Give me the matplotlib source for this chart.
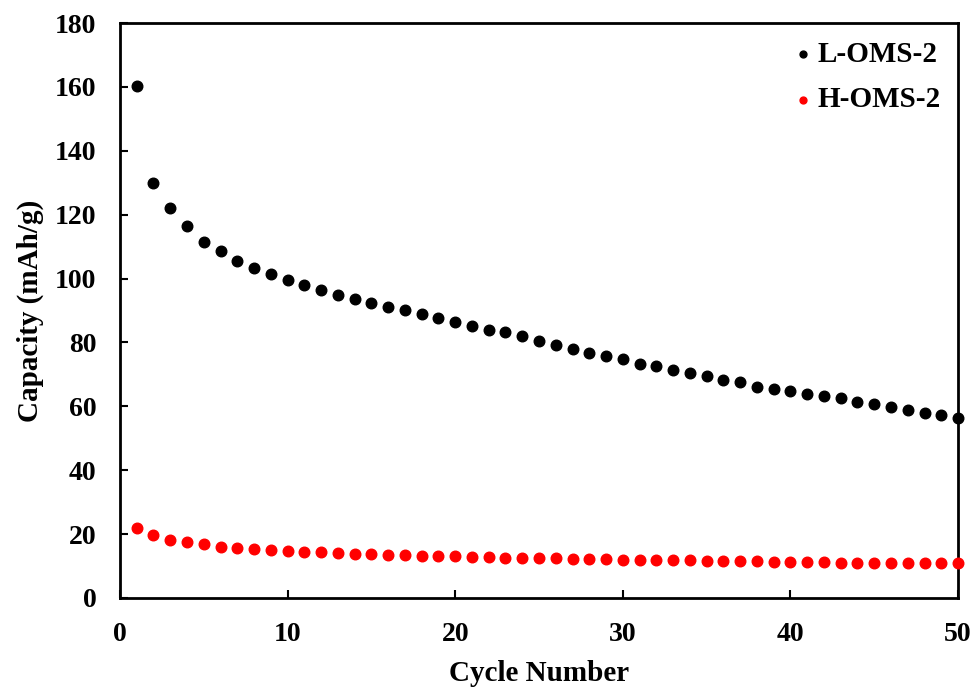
import matplotlib
matplotlib.use("Agg")
import matplotlib.pyplot as plt

cycles = list(range(1, 51))
l_oms2 = [160.2, 129.9, 122.1, 116.3, 111.6, 108.7, 105.5, 103.2, 101.5, 99.4,
          98.1, 96.5, 94.9, 93.6, 92.4, 91.0, 90.0, 89.0, 87.7, 86.5,
          85.1, 84.0, 83.2, 82.0, 80.3, 79.1, 77.8, 76.6, 75.9, 74.9,
          73.3, 72.5, 71.5, 70.5, 69.5, 68.3, 67.6, 66.0, 65.4, 64.8,
          63.75, 63.3, 62.6, 61.4, 60.7, 59.7, 58.75, 57.9, 57.4, 56.2]
h_oms2 = [21.9, 19.7, 18.0, 17.4, 16.8, 16.0, 15.7, 15.4, 15.1, 14.8,
          14.5, 14.5, 14.2, 13.9, 13.9, 13.6, 13.6, 13.2, 13.2, 13.2,
          12.9, 12.9, 12.6, 12.6, 12.6, 12.6, 12.3, 12.3, 12.3, 12.0,
          12.0, 12.0, 12.0, 12.0, 11.7, 11.7, 11.7, 11.7, 11.4, 11.4,
          11.4, 11.4, 11.1, 11.1, 11.1, 11.1, 11.1, 10.8, 10.8, 10.8]
x_ticks = [0, 10, 20, 30, 40, 50]
y_ticks = [0, 20, 40, 60, 80, 100, 120, 140, 160, 180]

plt.rcParams['font.family'] = ['Liberation Serif', 'DejaVu Serif']
plt.rcParams['font.weight'] = 'bold'

fig = plt.figure(figsize=(9.77, 6.89), dpi=100)
ax = fig.add_axes([0.1228, 0.1321, 0.9806 - 0.1228, 0.9666 - 0.1321])

ax.scatter(cycles, l_oms2, s=58, color='black', label='L-OMS-2', zorder=3, clip_on=False)
ax.scatter(cycles, h_oms2, s=58, color='#ff0000', label='H-OMS-2', zorder=3, clip_on=False)

ax.set_xlim(0, 50)
ax.set_ylim(0, 180)
ax.set_xticks(x_ticks)
ax.set_yticks(y_ticks)
ax.tick_params(direction='in', length=6, width=1.5, labelsize=20, pad=17)
for lbl in ax.get_xticklabels() + ax.get_yticklabels():
    lbl.set_fontweight('bold')
for sp in ax.spines.values():
    sp.set_linewidth(2)

ax.set_xlabel('Cycle Number', fontsize=21, fontweight='bold', labelpad=10)
ax.set_ylabel('Capacity (mAh/g)', fontsize=21, fontweight='bold', labelpad=8)

leg = ax.legend(loc='upper right', frameon=False, markerscale=0.65,
                handletextpad=0.05, handlelength=0.9, labelspacing=0.65,
                borderaxespad=0.2, prop={'weight': 'bold', 'size': 21})

fig.savefig('out.png', dpi=100)
